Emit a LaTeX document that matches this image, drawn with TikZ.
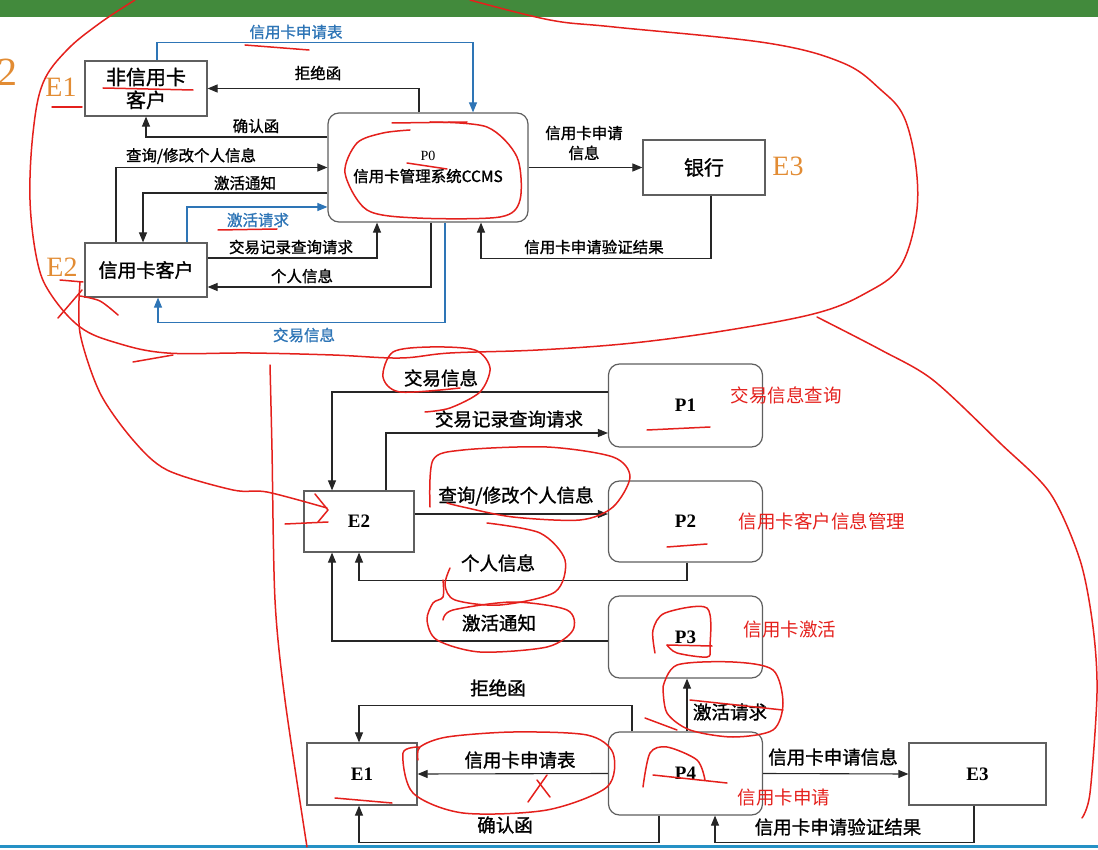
\documentclass[tikz,border=0pt]{standalone}
\usepackage{fontspec}
\setmainfont{Liberation Serif}
\newfontfamily\cjk[FakeBold=1.2]{Noto Sans CJK SC}
\newfontfamily\cjkthin{Noto Sans CJK SC}
\usetikzlibrary{arrows.meta}
\definecolor{slidegreen}{RGB}{66,138,60}
\definecolor{flowblue}{RGB}{46,117,182}
\definecolor{ink}{RGB}{228,32,28}
\definecolor{tagorange}{RGB}{226,140,52}
\definecolor{edgegray}{RGB}{95,95,95}

\begin{document}
\begin{tikzpicture}[x=1pt,y=-1pt,>={Triangle[length=10pt,width=8pt]},
  ent/.style={draw=edgegray,line width=1.2pt,fill=white,inner sep=0pt,align=center},
  proc/.style={ent,rounded corners=11pt},
  flow/.style={->,draw=black!85,line width=1.1pt},
  bflow/.style={flow,draw=flowblue},
  lbl/.style={font=\cjk\fontsize{15.5}{20}\selectfont,inner sep=0pt,align=center},
  blbl/.style={lbl,text=flowblue},
  lblb/.style={font=\cjk\fontsize{18.5}{20}\selectfont,inner sep=0pt},
  redtag/.style={font=\cjkthin\fontsize{18.5}{20}\selectfont,text=ink,inner sep=0pt},
  tag/.style={font=\fontsize{28}{28}\selectfont,text=tagorange,inner sep=0pt},
  pid/.style={font=\bfseries\fontsize{19}{20}\selectfont},
  pen/.style={draw=ink,line width=1.5pt,line cap=round,line join=round}]
\useasboundingbox (0,0) rectangle (1098,850);
\fill[slidegreen] (0,0) rectangle (1098,17);
\fill[flowblue!80!cyan] (0,845) rectangle (1098,848);

% level 0
\node[ent,minimum width=122pt,minimum height=55pt,font=\cjk\fontsize{20}{23}\selectfont] (e1t) at (146,88.5) {非信用卡\\客户};
\node[proc,minimum width=200pt,minimum height=109pt,font=\fontsize{15.5}{21}\selectfont] (p0) at (428,167.5) {{\fontsize{14}{14}\selectfont P0}\\{\cjk 信用卡管理系统CCMS}};
\node[ent,minimum width=122pt,minimum height=55pt,font=\cjk\fontsize{20}{23}\selectfont] (bank) at (704,167.5) {银行};
\node[ent,minimum width=122pt,minimum height=54pt,font=\cjk\fontsize{19}{23}\selectfont] (e2t) at (146,270) {信用卡客户};

\draw[bflow] ([xshift=11]e1t.north) -- ++(0,-18) -| ([xshift=45]p0.north);
\draw[flow] ([xshift=-9]p0.north) |- (e1t.east);
\draw[flow] ([yshift=30.5]p0.west) -| (e1t.south);
\draw[flow] ([xshift=-30]e2t.north) |- (p0.west);
\draw[flow] ([yshift=-25.5]p0.west) -| ([xshift=-3]e2t.north);
\draw[bflow] ([xshift=41]e2t.north) |- ([yshift=-39.5]p0.west);
\draw[flow] ([yshift=12]e2t.east) -| ([xshift=-51]p0.south);
\draw[flow] ([xshift=3]p0.south) |- ([yshift=-17]e2t.east);
\draw[bflow] ([xshift=17]p0.south) -- ++(0,100) -| ([xshift=12]e2t.south);
\draw[flow] (p0.east) -- (bank.west);
\draw[flow] ([xshift=7]bank.south) -- ++(0,63) -| ([xshift=53]p0.south);

\node[blbl] (tApp) at (296,32) {信用卡申请表};
\node[lbl] (tRej) at (318,73) {拒绝函};
\node[lbl] (tCon) at (256,126) {确认函};
\node[lbl] (tQry) at (191,156) {查询/修改个人信息};
\node[lbl] (tNot) at (245,183) {激活通知};
\node[blbl] (tAct) at (258,220) {激活请求};
\node[lbl] (tRec) at (291,247) {交易记录查询请求};
\node[lbl] (tPer) at (302,276) {个人信息};
\node[blbl] (tTrd) at (304,335) {交易信息};
\node[lbl] (tInf) at (584,143) {信用卡申请\\信息};
\node[lbl] (tVer) at (594,247) {信用卡申请验证结果};

\node[tag] (tagE1) at (61,87) {E1};
\node[tag] (tagE2) at (62,267) {E2};
\node[tag] (tagE3) at (788,166) {E3};
\node[tag,font=\fontsize{40}{40}\selectfont] (tagTwo) at (8,72) {2};

% level 1
\node[ent,minimum width=110pt,minimum height=61pt,pid] (e2b) at (359,521.5) {E2};
\node[proc,minimum width=154pt,minimum height=83pt,pid] (p1) at (685.5,405.5) {P1};
\node[proc,minimum width=154pt,minimum height=81pt,pid] (p2) at (685.5,521.5) {P2};
\node[proc,minimum width=154pt,minimum height=82pt,pid] (p3) at (685.5,637) {P3};
\node[proc,minimum width=154pt,minimum height=83pt,pid] (p4) at (685.5,773.5) {P4};
\node[ent,minimum width=110pt,minimum height=62pt,pid] (e1b) at (362,774) {E1};
\node[ent,minimum width=137pt,minimum height=62pt,pid] (e3b) at (977.5,774) {E3};

\draw[flow] ([yshift=13.5]p1.west) -| ([xshift=-27]e2b.north);
\draw[flow] ([xshift=27]e2b.north) |- ([yshift=-27.5]p1.west);
\draw[flow] ([yshift=7.5]e2b.east) -- ([yshift=7.5]p2.west);
\draw[flow] ([xshift=1.5]p2.south) -- ++(0,18) -| (e2b.south);
\draw[flow] ([yshift=-4]p3.west) -| ([xshift=-27]e2b.south);
\draw[flow] ([xshift=-53.5]p4.north) -- ++(0,-26) -| ([xshift=-3]e1b.north);
\draw[flow] (p4.west) -- (e1b.east);
\draw[flow] ([xshift=-26.5]p4.south) -- ++(0,27) -| ([xshift=-3]e1b.south);
\draw[flow] ([xshift=1.5]p4.north) -- ([xshift=1.5]p3.south);
\draw[flow] (p4.east) -- (e3b.west);
\draw[flow] ([xshift=-3.5]e3b.south) -- ++(0,37) -| ([xshift=29.5]p4.south);

\node[lblb] (bTrd) at (441,378) {交易信息};
\node[lblb] (bRec) at (509,419) {交易记录查询请求};
\node[lblb] (bQry) at (516,496) {查询/修改个人信息};
\node[lblb] (bPer) at (498,563) {个人信息};
\node[lblb] (bNot) at (499,623) {激活通知};
\node[lblb] (bRej) at (498,688) {拒绝函};
\node[lblb] (bApp) at (520,760) {信用卡申请表};
\node[lblb] (bCon) at (505,825) {确认函};
\node[lblb] (bAct) at (730,712) {激活请求};
\node[lblb] (bInf) at (833,757) {信用卡申请信息};
\node[lblb] (bVer) at (838,827) {信用卡申请验证结果};

\node[redtag] (nP1) at (786,395) {交易信息查询};
\node[redtag] (nP2) at (822,521) {信用卡客户信息管理};
\node[redtag] (nP3) at (790,630) {信用卡激活};
\node[redtag] (nP4) at (784,798) {信用卡申请};

% red marks
\draw[pen] plot[smooth,tension=0.6] coordinates {(470,0) (550,20) (614,27) (767,43) (843,63) (881,90) (904,117) (916,167) (916,217) (900,267) (866,293) (817,313) (729,330) (633,343) (538,350) (450,353) (400,358) (333,355) (250,353) (167,353) (117,343) (80,327) (50,293) (37,260) (30,200) (33,133) (43,83) (67,50) (100,23) (135,0)};
\draw[pen] plot[smooth] coordinates {(817,317) (881,350) (933,380) (1000,443) (1050,493) (1080,560) (1093,627) (1097,693) (1090,793) (1082,818)};
\draw[pen] plot[smooth] coordinates {(270,365) (272,450) (275,600) (285,700) (307,847)};
\draw[pen] plot[smooth] coordinates {(80,282) (80,333) (100,393) (133,440) (167,470) (233,490) (267,492) (327,508)};
\draw[pen] (315,494) -- (328,510) -- (318,522);
\draw[pen] (285,524) -- (328,522);
\draw[pen] (58,318) -- (82,290);
\draw[pen] plot[smooth] coordinates {(80,296) (100,301) (118,315)};
\draw[pen] (133,362) -- (173,355);
\draw[pen] (60,280) -- (83,282);
\draw[pen] (52,107) -- (82,107);
\draw[pen] (103,88) -- (193,90);
\draw[pen] (245,45) -- (309,50);
\draw[pen] (218,230) -- (277,229);
\draw[pen] (407,163) -- (447,169);
\draw[pen] (392,123) -- (467,122);
\draw[pen] plot[smooth] coordinates {(410,130) (383,133) (357,143) (345,173) (367,210) (417,218) (500,217) (520,200) (517,157) (487,127) (430,122)};
\draw[pen] plot[smooth] coordinates {(460,388) (400,392) (383,377) (393,352) (430,347) (475,350) (490,368) (480,392) (450,408) (425,412)};
\draw[pen] plot[smooth] coordinates {(430,507) (433,460) (463,450) (547,447) (613,457) (630,477) (613,507) (580,520) (513,517) (463,507) (447,503)};
\draw[pen] plot[smooth] coordinates {(487,523) (540,533) (565,560) (555,592) (500,605) (455,600) (445,585) (450,568)};
\draw[pen] plot[smooth] coordinates {(443,620) (453,610) (513,602) (567,610) (573,630) (547,647) (480,652) (437,640) (427,620) (433,603) (443,597) (443,580)};
\draw[pen] plot[smooth] coordinates {(420,747) (403,753) (413,793) (463,813) (547,810) (607,787) (613,753) (587,735) (513,732) (447,737) (420,747) (418,760)};
\draw[pen] (528,802) -- (547,775);
\draw[pen] (537,780) -- (550,797);
\draw[pen] (335,798) -- (392,803);
\draw[pen] plot[smooth] coordinates {(655,653) (653,630) (665,613) (707,608) (710,647) (707,657) (677,653) (667,645)};
\draw[pen] (667,645) -- (712,646);
\draw[pen] plot[smooth] coordinates {(663,687) (677,665) (733,662) (773,670) (783,703) (773,730) (733,737) (690,730) (667,713) (663,687)};
\draw[pen] (645,718) -- (677,730);
\draw[pen] (690,700) -- (783,710);
\draw[pen] plot[smooth] coordinates {(643,787) (650,753) (667,747) (697,760) (705,780)};
\draw[pen] (653,775) -- (727,783);
\draw[pen] (647,430) -- (710,427);
\draw[pen] (667,547) -- (707,544);
\end{tikzpicture}
\end{document}
